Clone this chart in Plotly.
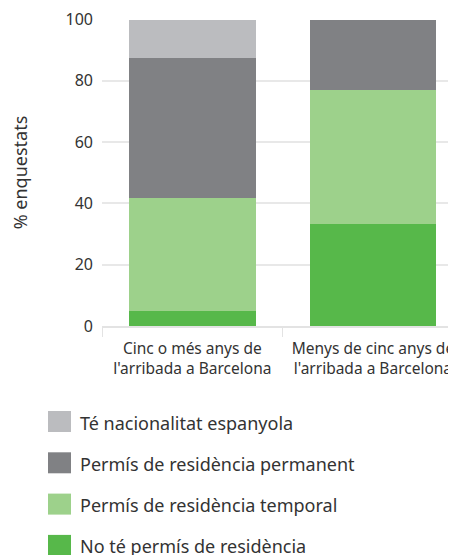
import plotly.graph_objects as go

# categories (x axis)
categories = ["Cinc o més anys de<br>l'arribada a Barcelona",
              "Menys de cinc anys de<br>l'arribada a Barcelona"]

# series, bottom to top of the stack
no_permis = [4.9, 33.2]
temporal = [36.8, 43.7]
permanent = [45.9, 23.1]
nacionalitat = [12.4, 0.0]

series_names = ["No té permís de residència",
                "Permís de residència temporal",
                "Permís de residència permanent",
                "Té nacionalitat espanyola"]
series_values = [no_permis, temporal, permanent, nacionalitat]
series_colors = ["#57b84a", "#9dd18b", "#808184", "#bbbcbf"]

y_ticks = [0, 20, 40, 60, 80, 100]

# the page body has an 8px margin, so the figure starts at (8, 8) in the window
OFF = 8
W, H = 456 - OFF, 555 - OFF
ML, MR, MT, MB = 102 - OFF, 0, 19 - OFF, 555 - 326
PW, PH = W - ML - MR, H - MT - MB
FONT = "Noto Sans"
TXT = "#333333"


def px_x(p):
    # window pixel -> paper x
    return (p - OFF - ML) / PW


def px_y(p):
    # window pixel -> paper y
    return (H - MB - (p - OFF)) / PH


fig = go.Figure()
for name, vals, col in zip(series_names, series_values, series_colors):
    fig.add_trace(go.Bar(x=categories, y=vals, name=name,
                         marker=dict(color=col, line=dict(width=0)),
                         showlegend=False))

# legend drawn by hand so the swatches can be bigger than plotly's
shapes, annos = [], []
for i, (name, col) in enumerate(zip(series_names[::-1], series_colors[::-1])):
    cy = 421.5 + i * 41.3
    shapes.append(dict(type="rect", xref="paper", yref="paper",
                       x0=px_x(48), x1=px_x(71), y0=px_y(cy - 10.5), y1=px_y(cy + 10.5),
                       fillcolor=col, line=dict(width=0)))
    annos.append(dict(xref="paper", yref="paper", x=px_x(78), y=px_y(cy + 1),
                      xanchor="left", yanchor="middle", showarrow=False,
                      text=name, font=dict(family=FONT, size=18, color=TXT)))

fig.update_layout(
    barmode="stack",
    bargap=0.3,
    width=W, height=H,
    margin=dict(l=ML, r=MR, t=MT, b=MB),
    paper_bgcolor="white", plot_bgcolor="white",
    font=dict(family=FONT, color=TXT),
    shapes=shapes,
    annotations=annos,
    xaxis=dict(range=[-0.5, 1.46], tickson="boundaries", ticks="outside",
               ticklen=9, tickcolor="#e3e3e3", showline=True, linecolor="#e3e3e3",
               linewidth=2, ticklabelstandoff=7,
               tickfont=dict(size=15.5, color=TXT), fixedrange=True),
    yaxis=dict(range=[0, 100.2], tickvals=y_ticks, showgrid=True, gridcolor="#e8e8e8",
               gridwidth=1.5, zeroline=False, ticks="", ticklabelstandoff=8,
               ticklabeloverflow="allow", automargin=False,
               tickfont=dict(size=16, color=TXT),
               title=dict(text="% enquestats", font=dict(size=18, color=TXT), standoff=40)),
)

fig.write_html("out.html", config={"displayModeBar": False})
